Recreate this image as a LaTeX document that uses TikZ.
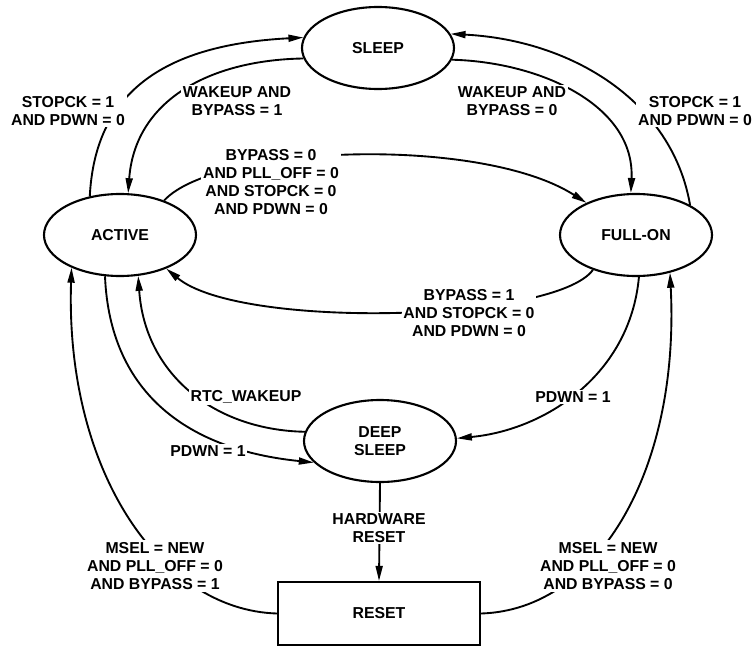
\documentclass[tikz,border=0pt]{standalone}
\usepackage{fontspec}
\setmainfont{Liberation Sans}
\usetikzlibrary{arrows.meta}
\usetikzlibrary{shapes.geometric}
\tikzset{%
	state/.style={ellipse,draw,line width=1.8pt,minimum width=45.6mm,minimum height=24.6mm,inner sep=0pt,font=\bfseries\fontsize{13.5}{15.5}\selectfont},
	resetbox/.style={rectangle,draw,line width=1.8pt,minimum width=60.6mm,minimum height=18.9mm,inner sep=0pt,font=\bfseries\fontsize{13.5}{15.5}\selectfont},
	trans/.style={line width=1.6pt,-{Triangle[length=4.5mm,width=2.1mm]}},
	cond/.style={fill=white,inner sep=1.5pt,align=center,font=\bfseries\fontsize{13.5}{15.5}\selectfont},
}
\begin{document}
\begin{tikzpicture}[x=0.3mm,y=-0.3mm]
	\useasboundingbox (0,0) rectangle (753,648);
	
	%stanja
	\node[state] (sleep) at (378,48) {SLEEP};
	\node[state] (active) at (120,235) {ACTIVE};
	\node[state] (fullon) at (636,235) {FULL-ON};
	\node[state,align=center] (deep) at (380,441) {DEEP\\SLEEP};
	\node[resetbox] (reset) at (379,613.5) {RESET};
	
	%prehodi
	\draw[trans] (active.128) .. controls (95,95) and (160,45) .. (sleep.172);
	\draw[trans] (sleep.188) .. controls (210,60) and (135,100) .. (active.79);
	\draw[trans] (active.38) .. controls (215,145) and (480,135) .. (fullon.147);
	\draw[trans] (fullon.219) .. controls (555,322) and (240,330) .. (active.-36);
	\draw[trans] (sleep.-9) .. controls (540,62) and (635,105) .. (fullon.97);
	\draw[trans] (fullon.29) .. controls (672,100) and (570,40) .. (sleep.11);
	\draw[trans] (active.250) .. controls (110,395) and (190,450) .. (deep.198);
	\draw[trans] (deep.173) .. controls (215,430) and (145,375) .. (active.294);
	\draw[trans] (reset.west) .. controls (160,610) and (65,470) .. (active.214);
	\draw[trans] (reset.east) .. controls (598,610) and (680,470) .. (fullon.312);
	\draw[trans] (fullon.274) .. controls (630,375) and (545,430) .. (deep.2);
	\draw[trans] (deep.south) -- (reset.north);
	
	%pogoji
	\node[cond] (c1) at (68,111) {STOPCK = 1\\AND PDWN = 0};
	\node[cond] (c2) at (237,101) {WAKEUP AND\\BYPASS = 1};
	\node[cond] (c3) at (271,182) {BYPASS = 0\\AND PLL\_OFF = 0\\AND STOPCK = 0\\AND PDWN = 0};
	\node[cond] (c4) at (469,313) {BYPASS = 1\\AND STOPCK = 0\\AND PDWN = 0};
	\node[cond] (c5) at (512,101) {WAKEUP AND\\BYPASS = 0};
	\node[cond] (c6) at (695,111) {STOPCK = 1\\AND PDWN = 0};
	\node[cond] (c7) at (208,451) {PDWN = 1};
	\node[cond] (c8) at (246,397) {RTC\_WAKEUP};
	\node[cond] (c9) at (155,566) {MSEL = NEW\\AND PLL\_OFF = 0\\AND BYPASS = 1};
	\node[cond] (c10) at (608,566) {MSEL = NEW\\AND PLL\_OFF = 0\\AND BYPASS = 0};
	\node[cond] (c11) at (573,397) {PDWN = 1};
	\node[cond] (c12) at (379,528) {HARDWARE\\RESET};
\end{tikzpicture}
\end{document}
